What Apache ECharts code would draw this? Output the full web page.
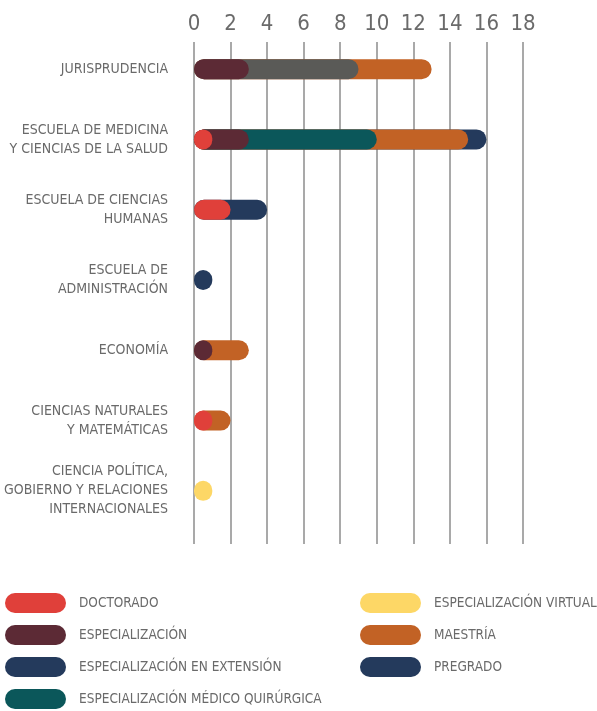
<!DOCTYPE html>
<html>
<head>
<meta charset="utf-8">
<script src="https://cdn.jsdelivr.net/npm/echarts@6/dist/echarts.min.js"></script>
<style>
  html, body { margin: 0; padding: 0; background: #fff; }
  #chart { width: 597px; height: 711px; }
</style>
</head>
<body>
<div id="chart"></div>
<script>
// facultades, de arriba hacia abajo
const categories = [
  'JURISPRUDENCIA',
  'ESCUELA DE MEDICINA\nY CIENCIAS DE LA SALUD',
  'ESCUELA DE CIENCIAS\nHUMANAS',
  'ESCUELA DE\nADMINISTRACIÓN',
  'ECONOMÍA',
  'CIENCIAS NATURALES\nY MATEMÁTICAS',
  'CIENCIA POLÍTICA,\nGOBIERNO Y RELACIONES\nINTERNACIONALES'
];

// número de programas por tipo
const doctorado           = [0, 1, 2, 0, 0, 1, 0];
const especializacion     = [3, 2, 0, 0, 1, 0, 0];
const espExtension        = [6, 0, 0, 0, 0, 0, 0];
const espMedicoQuirurgica = [0, 7, 0, 0, 0, 0, 0];
const espVirtual          = [0, 0, 0, 0, 0, 0, 1];
const maestria            = [4, 5, 0, 0, 2, 1, 0];
const pregrado            = [0, 1, 2, 1, 0, 0, 0];

const xTicks = [0, 2, 4, 6, 8, 10, 12, 14, 16, 18];

const FONT = "'Liberation Sans Narrow', 'DejaVu Sans Condensed', sans-serif";
const GREY_TEXT = '#6a6a6a';

const tipos = [
  { name: 'DOCTORADO', data: doctorado, color: '#e0403a' },
  { name: 'ESPECIALIZACIÓN', data: especializacion, color: '#5c2a35' },
  { name: 'ESPECIALIZACIÓN EN EXTENSIÓN', data: espExtension, color: '#5a5a57', legendColor: '#243a5c' },
  { name: 'ESPECIALIZACIÓN MÉDICO QUIRÚRGICA', data: espMedicoQuirurgica, color: '#0b575a' },
  { name: 'ESPECIALIZACIÓN VIRTUAL', data: espVirtual, color: '#fdd766' },
  { name: 'MAESTRÍA', data: maestria, color: '#c26225' },
  { name: 'PREGRADO', data: pregrado, color: '#243a5c' }
];

// cada barra va de 0 al acumulado; las anteriores quedan encima
const acumulado = categories.map(() => 0);
const series = tipos.map((t, i) => {
  const data = t.data.map((v, j) => {
    acumulado[j] += v;
    return v > 0 ? acumulado[j] : '-';
  });
  return {
    name: t.name,
    type: 'bar',
    xAxisIndex: 1,
    yAxisIndex: 1,
    barWidth: 20,
    barGap: '-100%',
    z: 20 - i,
    itemStyle: { color: t.color, borderRadius: 10 },
    data: data
  };
});

const pill = 'path://M10,0L51,0A10,10,0,0,1,51,20L10,20A10,10,0,0,1,10,0Z';
const legendItem = (t) => ({ name: t.name, itemStyle: { color: t.legendColor || t.color } });

const legendBase = {
  orient: 'vertical',
  top: 593,
  padding: 0,
  height: 118,
  itemWidth: 61,
  itemHeight: 20,
  itemGap: 12,
  icon: pill,
  selectedMode: false,
  textStyle: { fontFamily: FONT, fontSize: 13.5, color: GREY_TEXT, padding: [0, 0, 0, 8] }
};

const myChart = echarts.init(document.getElementById('chart'));
myChart.setOption({
  animation: false,
  backgroundColor: '#fff',
  grid: [
    { left: 194, right: 74, top: 42, bottom: 167 },
    { left: 194, right: 74, top: 34, bottom: 185 }
  ],
  xAxis: [
    {
      gridIndex: 0,
      type: 'value',
      position: 'top',
      min: 0,
      max: 18,
      interval: 2,
      axisLine: { show: false },
      axisTick: { show: false },
      axisLabel: {
        margin: 7,
        fontFamily: FONT,
        fontSize: 22,
        color: GREY_TEXT,
        formatter: (v) => (xTicks.indexOf(v) >= 0 ? String(v) : '')
      },
      splitLine: { show: true, lineStyle: { color: '#8c8c8c', width: 1.5 } }
    },
    {
      gridIndex: 1,
      type: 'value',
      min: 0,
      max: 18,
      show: false
    }
  ],
  yAxis: [
    { gridIndex: 0, type: 'value', show: false, min: 0, max: 1 },
    {
      gridIndex: 1,
      type: 'category',
      inverse: true,
      data: categories,
      axisLine: { show: false },
      axisTick: { show: false },
      axisLabel: {
        margin: 26,
        align: 'right',
        fontFamily: FONT,
        fontSize: 14,
        lineHeight: 19,
        color: GREY_TEXT
      }
    }
  ],
  legend: [
    Object.assign({}, legendBase, { left: 5, data: tipos.slice(0, 4).map(legendItem) }),
    Object.assign({}, legendBase, { left: 360, data: tipos.slice(4).map(legendItem) })
  ],
  series: series
});
</script>
</body>
</html>
